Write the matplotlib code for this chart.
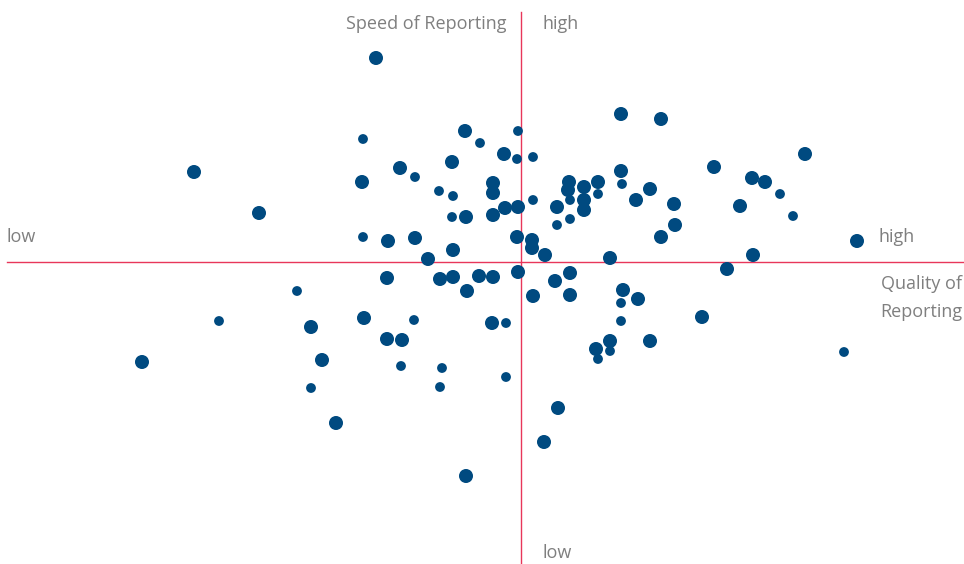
import numpy as np
import matplotlib.pyplot as plt

plt.rcParams['font.family'] = ['Open Sans', 'DejaVu Sans']

# positions relative to the crosshair (quality -> x, speed -> y), big = larger dot
quality = [-145, -158, -327, -262, -121, -106, -159, -158, -133, -106, -93,
           -56, -41, -3, -17, -4, 12, -69, 100, 140,
           -82, -68, -28, -28, -69, -55, -28, -16, -3, 12, -4, 11, 11, 24, -68,
           36, 49, 36, 49, 48, 47, 63, 77, 77, 63, 63, 100, 101, 115, 129,
           153, 154, 140, 89, 193, 231, 244, 259, 284, 219, 272, 336, 232, 206,
           -134, -224, -81, -68, -42, -28, -3, -54, 12, 34, 49, 49, 102, 100, 117,
           -302, -210, -157, -107, -134, -119, -379, -199, -120, -210, -185,
           -29, -15, 100, 89, 75, 89, 77, 129, 181, 323,
           -79, -81, -15, 37, 23, -55]
speed = [204, 123, 90, 49, 94, 85, 80, 25, 21, 24, 3,
         131, 119, 131, 108, 103, 105, 100, 148, 143,
         71, 66, 79, 69, 45, 45, 47, 54, 55, 62, 25, 22, 14, 7, 12,
         55, 62, 37, 43, 80, 72, 75, 80, 68, 62, 52, 91, 78, 62, 73,
         58, 37, 25, 4, 95, 84, 80, 68, 108, 56, 46, 21, 7, -7,
         -16, -29, -17, -15, -14, -15, -10, -29, -34, -19, -11, -33, -28, -41, -37,
         -59, -65, -56, -58, -77, -78, -100, -98, -104, -126, -161,
         -61, -61, -59, -79, -87, -89, -97, -79, -55, -90,
         -106, -125, -115, -146, -180, -214]
big = [1, 0, 1, 1, 1, 0, 1, 0, 1, 1, 1,
       1, 0, 0, 1, 0, 0, 1, 1, 1,
       0, 0, 1, 1, 0, 1, 1, 1, 1, 0, 1, 1, 1, 1, 1,
       1, 0, 0, 0, 1, 1, 1, 1, 0, 1, 1, 1, 0, 1, 1,
       1, 1, 1, 1, 1, 1, 1, 0, 1, 1, 0, 1, 1, 1,
       1, 0, 1, 1, 1, 1, 1, 1, 1, 1, 1, 1, 1, 0, 1,
       0, 1, 1, 0, 1, 1, 1, 1, 0, 0, 1,
       1, 0, 0, 1, 1, 0, 0, 1, 1, 0,
       0, 0, 0, 1, 1, 1]

blue = '#004a80'
red = '#e8365a'
grey = '#7f7f7f'

fig = plt.figure(figsize=(9.64, 5.64), dpi=100)
ax = fig.add_axes([0, 0, 1, 1])
ax.set_xlim(-521, 443)
ax.set_ylim(-302, 262)
ax.axis('off')

ax.plot([0, 0], [250, -302], color=red, lw=1.0, zorder=1)
ax.plot([-514, 443], [0, 0], color=red, lw=1.0, zorder=1)

sizes = np.where(np.array(big) == 1, 102, 50)
ax.scatter(quality, speed, s=sizes, color=blue, linewidths=0, zorder=2)

fs = 13
ax.text(-15, 238, 'Speed of Reporting', ha='right', va='center', color=grey, fontsize=fs)
ax.text(22, 238, 'high', ha='left', va='center', color=grey, fontsize=fs)
ax.text(22, -291, 'low', ha='left', va='center', color=grey, fontsize=fs)
ax.text(-514, 25, 'low', ha='left', va='center', color=grey, fontsize=fs)
ax.text(357, 25, 'high', ha='left', va='center', color=grey, fontsize=fs)
ax.text(441, -22, 'Quality of', ha='right', va='center', color=grey, fontsize=fs)
ax.text(441, -50, 'Reporting', ha='right', va='center', color=grey, fontsize=fs)

fig.savefig('out.png', dpi=100)
